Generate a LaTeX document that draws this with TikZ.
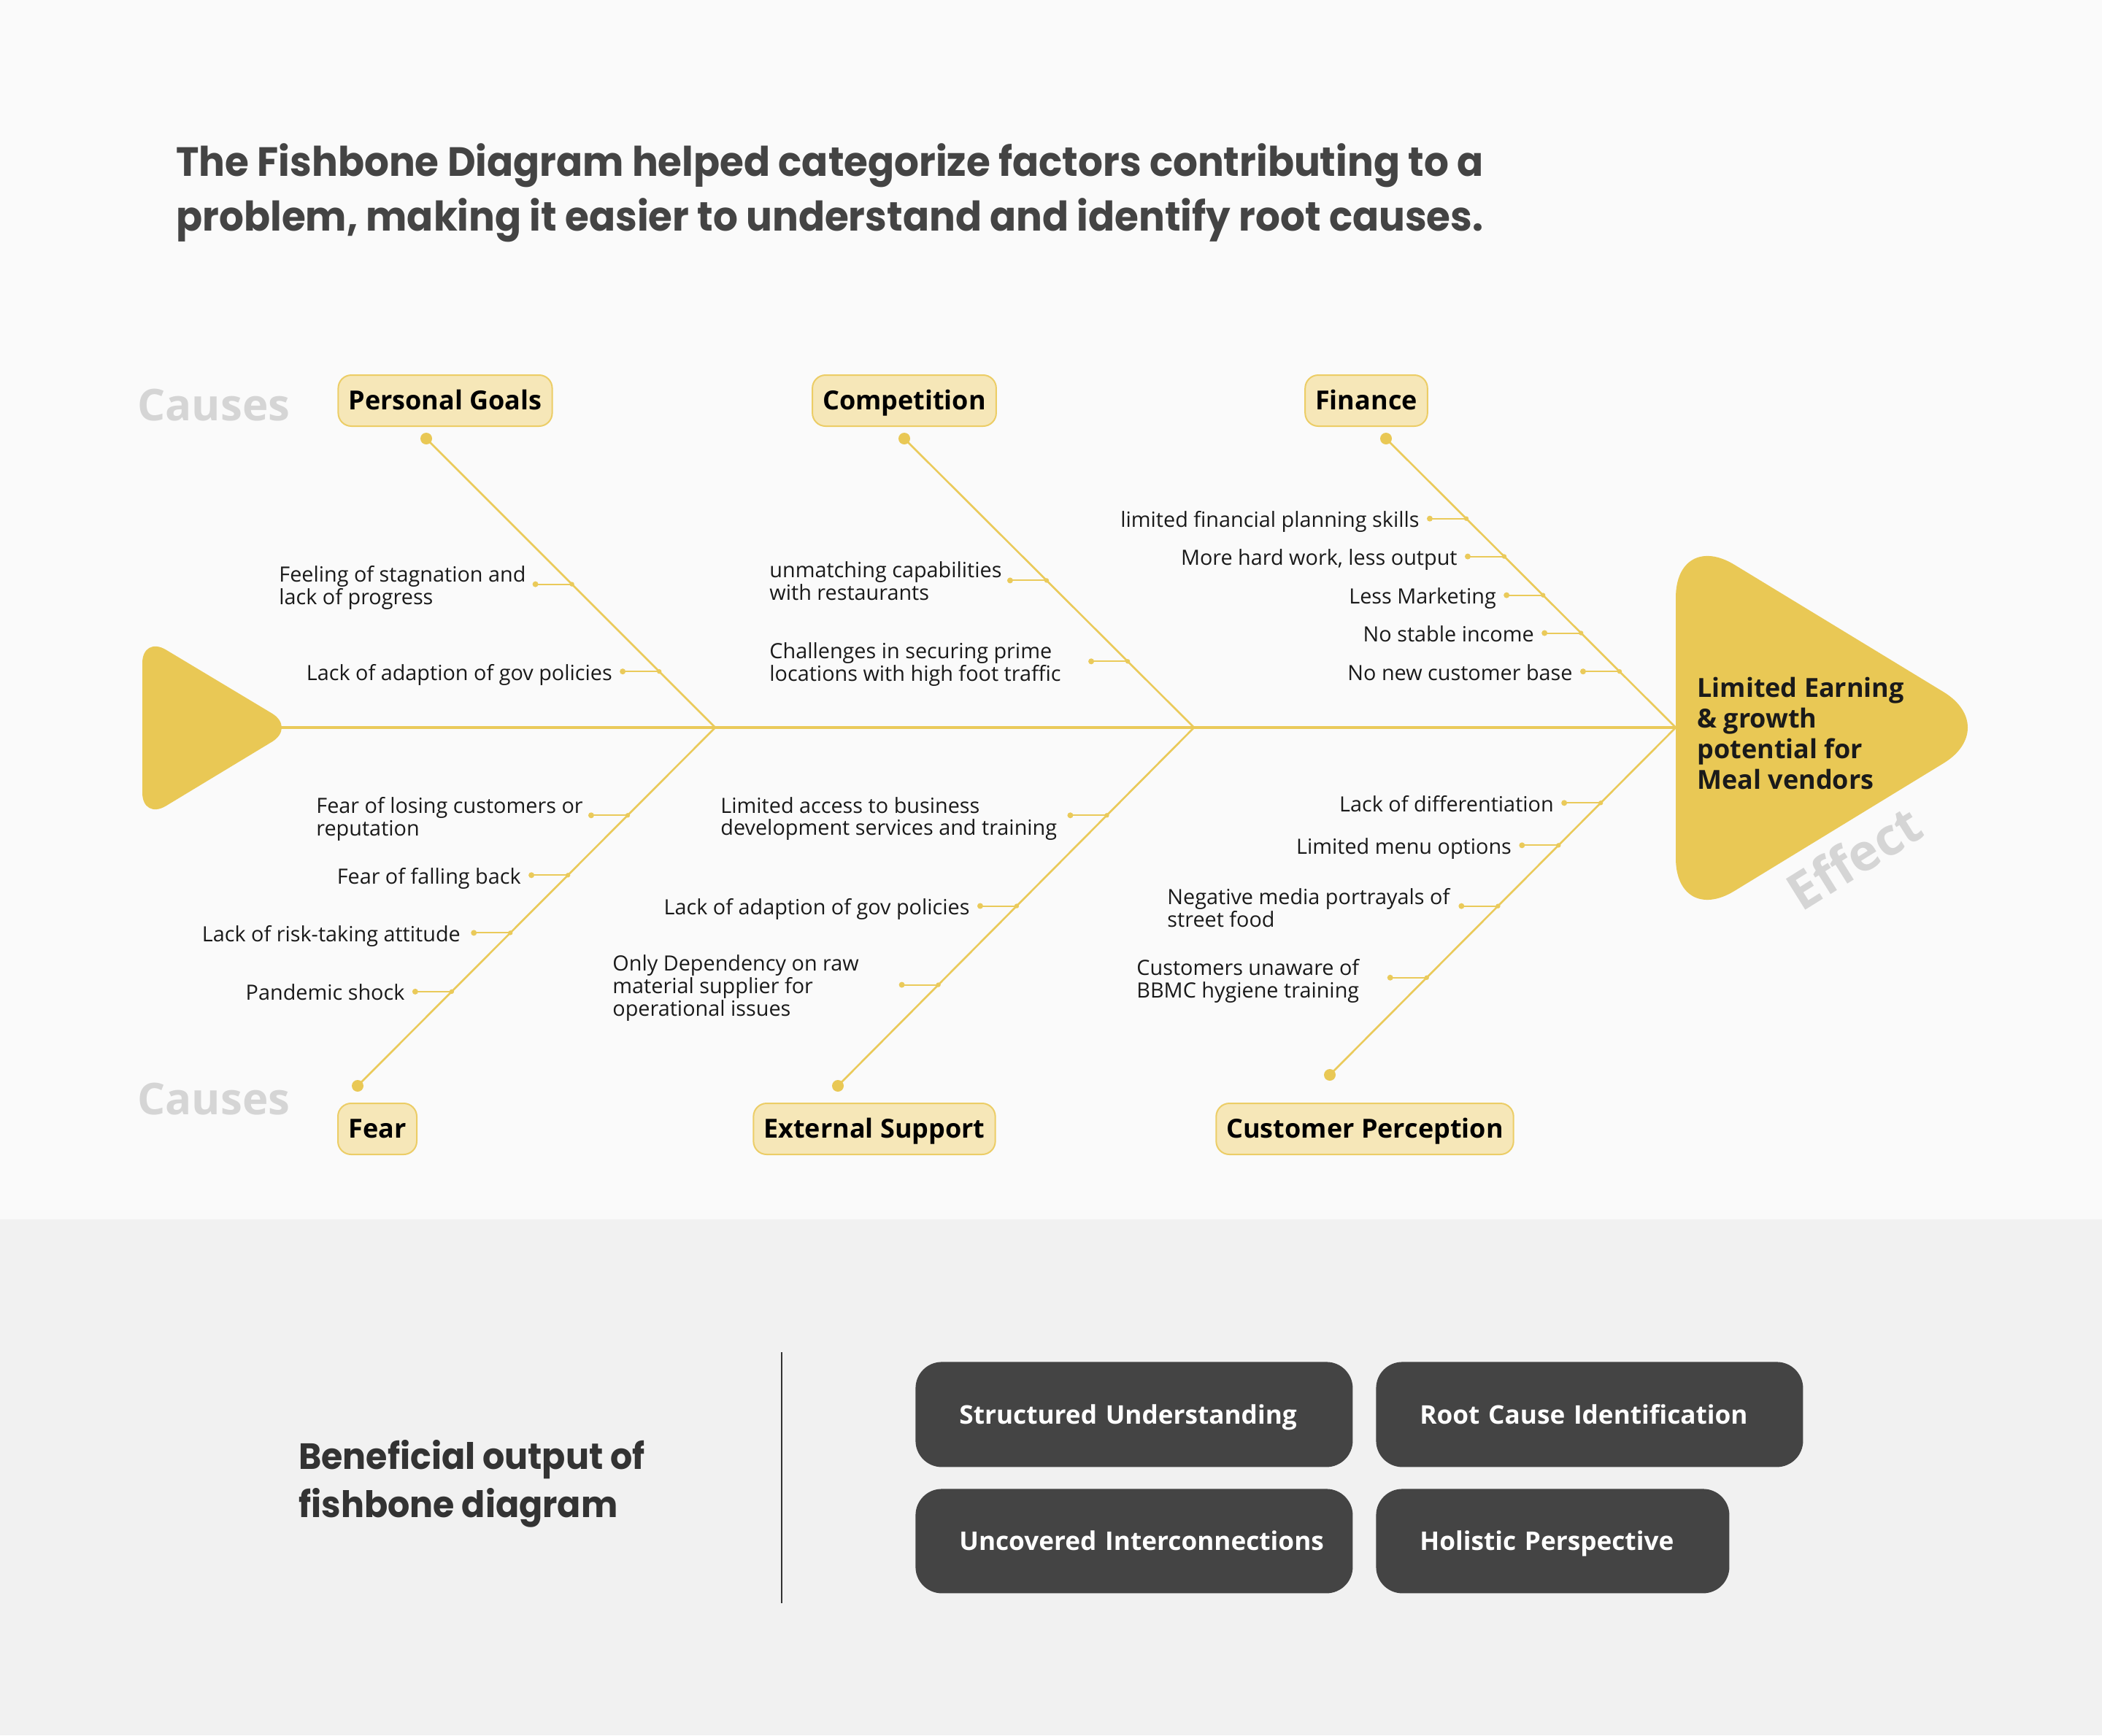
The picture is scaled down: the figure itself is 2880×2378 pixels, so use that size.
\documentclass[tikz,border=0pt]{standalone}
\usepackage{fontspec}
\setmainfont{Open Sans}
\newfontfamily\headlinefont{Poppins}[FakeStretch=0.95]
\usetikzlibrary{calc}

\definecolor{bgtop}{HTML}{FAFAFA}
\definecolor{bgbottom}{HTML}{F1F1F1}
\definecolor{fishyellow}{HTML}{E9C855}
\definecolor{boneline}{HTML}{EACA5A}
\definecolor{catfill}{HTML}{F6E7B8}
\definecolor{catborder}{HTML}{ECCD66}
\definecolor{ghost}{HTML}{D5D5D5}
\definecolor{ink}{HTML}{444444}
\definecolor{darkink}{HTML}{333333}
\definecolor{panel}{HTML}{444444}
\definecolor{labelink}{HTML}{1A1A1A}

% a small sub-cause twig: #1 name, #2/#3 bone ends, #4 position along the bone
\newcommand\fishtwig[4]{%
  \coordinate (#1-on) at ($(#2)!#4!(#3)$);
  \coordinate (#1-end) at ($(#1-on)+(-50,0)$);
  \draw[twigline] (#1-end) -- (#1-on);
  \fill[boneline] (#1-end) circle (2pt);
  \fill[boneline] (#1-on) circle (1.6pt);
}

\begin{document}
\begin{tikzpicture}[x=0.5pt,y=-0.5pt,
  spine/.style={draw=boneline,line width=1.6pt},
  bone/.style={draw=boneline,line width=1.3pt},
  twigline/.style={draw=boneline,line width=1pt},
  catbox/.style={draw=catborder,fill=catfill,line width=1pt,rounded corners=9pt,
    minimum height=35pt,inner xsep=7pt,inner ysep=0pt,text=black,
    text height=13.3pt,text depth=0.5pt,
    font=\fontsize{18}{22}\selectfont\bfseries},
  cause/.style={font=\fontsize{14.4}{15.5}\selectfont,text=labelink,align=left,inner sep=0pt},
  single/.style={cause,anchor=base east},
  multi/.style={cause,anchor=west,yshift=-2pt},
  ghostword/.style={font=\fontsize{30}{36}\selectfont\bfseries,text=ghost,inner sep=0pt},
  headline/.style={font=\headlinefont\bfseries\fontsize{28}{32}\selectfont,text=ink,inner sep=0pt,anchor=base west},
  benefit/.style={fill=panel,rounded corners=18pt,text=white,anchor=north west,
    inner xsep=30pt,inner ysep=0pt,align=left,text height=12.8pt,text depth=0.2pt,
    font=\fontsize{17.6}{20}\selectfont\bfseries}
]
% page backgrounds
\fill[bgtop] (0,0) rectangle (2880,1671);
\fill[bgbottom] (0,1671) rectangle (2880,2378);
\useasboundingbox (0,0) rectangle (2880,2378);

% heading
\node[headline] (title1) at (241,241) {The Fishbone Diagram helped categorize factors contributing to a};
\node[headline] (title2) at (241,316) {problem, making it easier to understand and identify root causes.};

% skeleton points
\coordinate (tailtip) at (384,997);
\coordinate (j1) at (980,997);
\coordinate (j2) at (1636,997);
\coordinate (j3) at (2296,997);
\coordinate (pgD) at (584,601);
\coordinate (cmD) at (1239,601);
\coordinate (fiD) at (1899,601);
\coordinate (feD) at (490,1488);
\coordinate (esD) at (1148,1488);
\coordinate (cpD) at (1822,1473);

% spine and bones
\draw[spine] (tailtip) -- (j3);
\draw[bone] (pgD) -- (j1);
\draw[bone] (cmD) -- (j2);
\draw[bone] (fiD) -- (j3);
\draw[bone] (j1) -- (feD);
\draw[bone] (j2) -- (esD);
\draw[bone] (j3) -- (cpD);
\foreach \p in {pgD,cmD,fiD,feD,esD,cpD} \fill[fishyellow] (\p) circle (4pt);

% tail and head
\fill[fishyellow,rounded corners=19pt] (195,997) -- (195,871) -- (405,997) -- (195,1124) -- cycle;
\fill[fishyellow,rounded corners=47pt] (2296,997) -- (2296,725) -- (2743,997) -- (2296,1270) -- cycle;
\node[anchor=west,align=left,inner sep=0pt,text=labelink,
  font=\fontsize{18}{20.9}\selectfont\bfseries] (effect) at (2325,1005)
  {Limited Earning\\\& growth\\potential for\\Meal vendors};
\node[ghostword,font=\fontsize{35}{40}\selectfont\bfseries,rotate=32] (effectword) at (2540,1175) {Effect};

% side words
\node[ghostword] (causesTop) at (293,555) {Causes};
\node[ghostword] (causesBottom) at (293,1506) {Causes};

% categories
\node[catbox,minimum width=145pt] (pg) at (610,549) {Personal Goals};
\node[catbox,minimum width=124pt] (cm) at (1239,549) {Competition};
\node[catbox,minimum width=83.5pt] (fi) at (1872,549) {Finance};
\node[catbox,minimum width=54pt] (fe) at (517,1547) {Fear};
\node[catbox,minimum width=165.5pt] (es) at (1198,1547) {External Support};
\node[catbox,minimum width=202pt] (cp) at (1870,1547) {Customer Perception};

% twigs
\fishtwig{pg1}{pgD}{j1}{0.504}
\fishtwig{pg2}{pgD}{j1}{0.806}
\fishtwig{cm1}{cmD}{j2}{0.491}
\fishtwig{cm2}{cmD}{j2}{0.771}
\fishtwig{fi1}{fiD}{j3}{0.277}
\fishtwig{fi2}{fiD}{j3}{0.408}
\fishtwig{fi3}{fiD}{j3}{0.542}
\fishtwig{fi4}{fiD}{j3}{0.673}
\fishtwig{fi5}{fiD}{j3}{0.806}
\fishtwig{fe1}{j1}{feD}{0.245}
\fishtwig{fe2}{j1}{feD}{0.412}
\fishtwig{fe3}{j1}{feD}{0.573}
\fishtwig{fe4}{j1}{feD}{0.737}
\fishtwig{es1}{j2}{esD}{0.245}
\fishtwig{es2}{j2}{esD}{0.498}
\fishtwig{es3}{j2}{esD}{0.718}
\fishtwig{cp1}{j3}{cpD}{0.217}
\fishtwig{cp2}{j3}{cpD}{0.339}
\fishtwig{cp3}{j3}{cpD}{0.514}
\fishtwig{cp4}{j3}{cpD}{0.72}

% sub-cause labels
\node[multi] (t-pg1) at (382,801) {Feeling of stagnation and\\lack of progress};
\node[single] (t-pg2) at ($(pg2-end)+(-14,12)$) {Lack of adaption of gov policies};
\node[multi] (t-cm1) at (1054,792) {unmatching capabilities\\with restaurants};
\node[multi] (t-cm2) at (1054,907) {Challenges in securing prime\\locations with high foot traffic};
\node[single] (t-fi1) at ($(fi1-end)+(-14,12)$) {limited financial planning skills};
\node[single] (t-fi2) at ($(fi2-end)+(-14,12)$) {More hard work, less output};
\node[single] (t-fi3) at ($(fi3-end)+(-14,12)$) {Less Marketing};
\node[single] (t-fi4) at ($(fi4-end)+(-14,12)$) {No stable income};
\node[single] (t-fi5) at ($(fi5-end)+(-14,12)$) {No new customer base};
\node[multi] (t-fe1) at (433,1118) {Fear of losing customers or\\reputation};
\node[single] (t-fe2) at ($(fe2-end)+(-14,12)$) {Fear of falling back};
\node[single] (t-fe3) at ($(fe3-end)+(-18,12)$) {Lack of risk-taking attitude};
\node[single] (t-fe4) at ($(fe4-end)+(-14,12)$) {Pandemic shock};
\node[multi] (t-es1) at (987,1118) {Limited access to business\\development services and training};
\node[single] (t-es2) at ($(es2-end)+(-14,12)$) {Lack of adaption of gov policies};
\node[multi] (t-es3) at (839,1350) {Only Dependency on raw\\material supplier for\\operational issues};
\node[single] (t-cp1) at ($(cp1-end)+(-14,12)$) {Lack of differentiation};
\node[single] (t-cp2) at ($(cp2-end)+(-14,12)$) {Limited menu options};
\node[multi] (t-cp3) at (1599,1240) {Negative media portrayals of\\street food};
\node[multi] (t-cp4) at (1557,1340) {Customers unaware of\\BBMC hygiene training};

% lower panel
\node[headline,text=darkink,font=\headlinefont\bfseries\fontsize{25}{30}\selectfont] (ben1) at (409,2013) {Beneficial output of};
\node[headline,text=darkink,font=\headlinefont\bfseries\fontsize{25}{30}\selectfont] (ben2) at (409,2079) {fishbone diagram};
\coordinate (divTop) at (1071,1853);
\coordinate (divBot) at (1071,2197);
\draw[darkink,line width=1pt] (divTop) -- (divBot);

\node[benefit,text width=239.5pt,minimum height=72pt] (b1) at (1254,1866) {\mbox{Structured Understanding}};
\node[benefit,text width=232.5pt,minimum height=72pt] (b2) at (1885,1866) {\mbox{Root Cause Identification}};
\node[benefit,text width=239.5pt,minimum height=71.5pt] (b3) at (1254,2040) {\mbox{Uncovered Interconnections}};
\node[benefit,text width=182pt,minimum height=71.5pt] (b4) at (1885,2040) {\mbox{Holistic Perspective}};
\end{tikzpicture}
\end{document}
